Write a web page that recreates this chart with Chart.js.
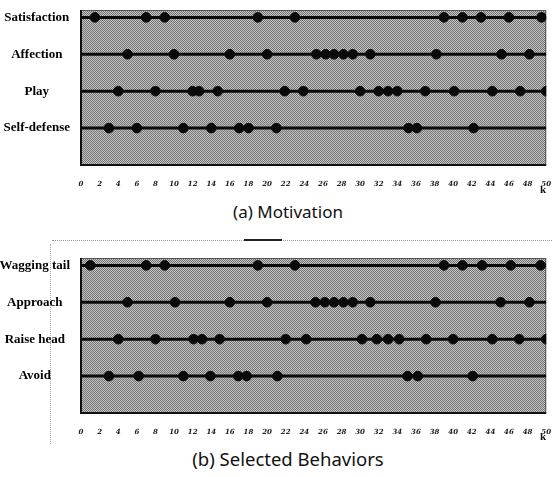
<!DOCTYPE html>
<html>
<head>
<meta charset="utf-8">
<script src="https://cdn.jsdelivr.net/npm/chart.js@4/dist/chart.umd.min.js"></script>
<style>
  body { margin: 0; background: #fff; width: 552px; height: 477px; position: relative; overflow: hidden }
  .box { position: absolute; left: 0; width: 552px }
  #boxA { top: 0; height: 197px }
  #boxB { top: 248px; height: 196px }
  .caption { position: absolute; left: 0; width: 576px; text-align: center; font-family: "Noto Sans", sans-serif; color: #111; line-height: 1 }
  #capA { top: 203px; font-size: 17px }
  #capB { top: 450px; font-size: 18.5px }
  #rule { position: absolute; top: 240px; left: 52px; width: 500px; border-top: 1px dotted #999 }
  #ruleDark { position: absolute; top: 239px; left: 244px; width: 38px; height: 2px; background: #222 }
  #vrule { position: absolute; top: 244px; left: 50px; height: 200px; border-left: 1px dotted #aaa }
</style>
</head>
<body>
<div id="rule"></div>
<div id="ruleDark"></div>
<div id="vrule"></div>
<div class="box" id="boxA"><canvas id="chartA"></canvas></div>
<div class="caption" id="capA">(a) Motivation</div>
<div class="box" id="boxB"><canvas id="chartB"></canvas></div>
<div class="caption" id="capB">(b) Selected Behaviors</div>
<script>
// 横軸 (k)
const kMin = 0
const kMax = 50
const kStep = 2

// (a) Motivation
const motivationRows = ["Satisfaction", "Affection", "Play", "Self-defense"]
const satisfaction = [1.5, 7, 9, 19, 23, 39, 41, 43, 46, 49.5]
const affection = [5, 10, 16, 20, 25.3, 26.3, 27.2, 28.2, 29.2, 31.1, 38.2, 45.2, 48.2]
const play = [4, 8, 12, 12.7, 14.7, 21.9, 23.9, 30, 32, 33, 34, 37, 40.1, 44.2, 47.2, 50]
const selfDefense = [3, 6, 11, 14, 17, 18, 21, 35.2, 36.1, 42.2]

// (b) Selected Behaviors
const behaviorRows = ["Wagging tail", "Approach", "Raise head", "Avoid"]
const waggingTail = [1, 7, 9, 19, 23, 39, 41, 43.1, 46.2, 49.4]
const approach = [5, 10.1, 16, 20, 25.2, 26.2, 27.2, 28.2, 29.2, 31.1, 38.1, 45.1, 48.2]
const raiseHead = [4, 8, 12.1, 13, 14.9, 22, 24.2, 30.2, 31.8, 33, 34.2, 37.1, 40, 44.2, 47.1, 50]
const avoid = [3, 6.2, 11, 13.9, 16.9, 17.8, 21.1, 35.1, 36.2, 42.1]

// 網点風の背景パターン
function halftone(ctx) {
  let c = document.createElement("canvas")
  c.width = 2
  c.height = 2
  let g = c.getContext("2d")
  g.fillStyle = "#c4c4c4"
  g.fillRect(0, 0, 2, 2)
  g.fillStyle = "#747474"
  g.fillRect(0, 0, 1, 1)
  g.fillRect(1, 1, 1, 1)
  return ctx.createPattern(c, "repeat")
}

const plotBg = {
  id: "plotBg",
  beforeDraw(chart) {
    let ctx = chart.ctx
    let a = chart.chartArea
    ctx.save()
    ctx.fillStyle = halftone(ctx)
    ctx.fillRect(a.left, a.top, a.right - a.left, a.bottom - a.top)
    ctx.strokeStyle = "#555"
    ctx.lineWidth = 1
    ctx.strokeRect(a.left + 0.5, a.top + 0.5, a.right - a.left - 1, a.bottom - a.top - 1)
    ctx.strokeStyle = "#111"
    ctx.lineWidth = 2
    ctx.beginPath()
    ctx.moveTo(a.left, a.top)
    ctx.lineTo(a.left, a.bottom)
    ctx.lineTo(a.right, a.bottom)
    ctx.stroke()
    ctx.restore()
  }
}

function makeChart(id, rows, events, axisHeight) {
  let datasets = []
  rows.forEach((name, i) => {
    let y = rows.length - 1 - i
    datasets.push({
      type: "line",
      label: name + " line",
      data: [{ x: kMin, y: y }, { x: kMax, y: y }],
      borderColor: "#0a0a0a",
      borderWidth: 3,
      pointRadius: 0
    })
    datasets.push({
      type: "scatter",
      label: name,
      data: events[i].map(k => ({ x: k, y: y })),
      backgroundColor: "#0a0a0a",
      borderColor: "#0a0a0a",
      pointRadius: 4.8
    })
  })

  let options = {
    responsive: true,
    maintainAspectRatio: false,
    animation: false,
    layout: { padding: { top: 10, right: 4, left: 0, bottom: 0 } },
    plugins: {
      legend: { display: false },
      tooltip: { enabled: false }
    },
    scales: {
      x: {
        type: "linear",
        min: kMin,
        max: kMax,
        grid: { display: false },
        border: { display: false },
        ticks: {
          stepSize: kStep,
          autoSkip: false,
          maxRotation: 0,
          padding: 7,
          color: "#222",
          font: { family: "DejaVu Serif", size: 7, weight: "bold", style: "italic" }
        },
        title: {
          display: true,
          text: "k",
          align: "end",
          color: "#111",
          padding: 0,
          font: { family: "Liberation Serif", size: 11, weight: "bold" }
        },
        afterFit(scale) {
          scale.height = axisHeight
          scale.paddingLeft = 0
          scale.paddingRight = 0
        }
      },
      y: {
        type: "linear",
        min: -1,
        max: 3.2,
        grid: { display: false },
        border: { display: false },
        afterBuildTicks(scale) {
          scale.ticks = rows.map((r, i) => ({ value: i }))
        },
        ticks: {
          crossAlign: "center",
          color: "#000",
          font: { family: "Liberation Serif", size: 13, weight: "bold" },
          callback: v => rows[rows.length - 1 - v]
        },
        afterFit(scale) {
          scale.width = 81
          scale.paddingTop = 0
          scale.paddingBottom = 0
        }
      }
    }
  }

  return new Chart(document.getElementById(id), {
    type: "scatter",
    data: { datasets: datasets },
    options: options,
    plugins: [plotBg]
  })
}

makeChart("chartA", motivationRows, [satisfaction, affection, play, selfDefense], 32)
makeChart("chartB", behaviorRows, [waggingTail, approach, raiseHead, avoid], 31)
</script>
</body>
</html>
